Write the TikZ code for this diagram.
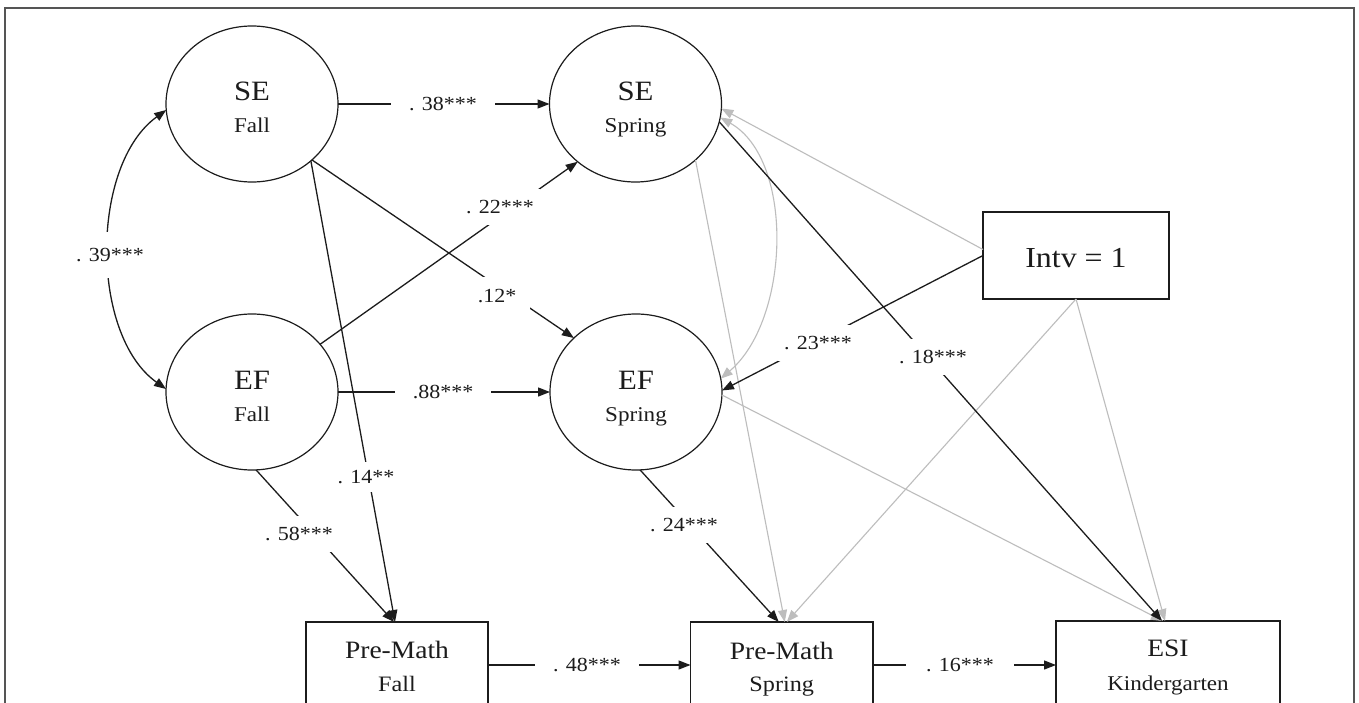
\documentclass[tikz,border=0pt]{standalone}
\usepackage{fontspec}
\setmainfont{Liberation Serif}[FakeStretch=1.1]
\usetikzlibrary{arrows.meta,shapes.geometric}
\definecolor{ink}{HTML}{1C1C1C}
\definecolor{lg}{HTML}{BDBDBD}
\definecolor{framecol}{HTML}{555555}
\tikzset{
 latent/.style={ellipse, draw=ink, line width=1.2pt, minimum width=172pt, minimum height=156pt, inner sep=0pt, outer sep=0pt},
 obsbox/.style={rectangle, draw=ink, line width=1.2pt, inner sep=0pt, outer sep=0pt},
 bigt/.style={inner sep=0pt, anchor=base, font=\fontsize{28}{30}\selectfont, text=ink},
 smt/.style={inner sep=0pt, anchor=base, font=\fontsize{21}{24}\selectfont, text=ink},
 boxt/.style={inner sep=0pt, anchor=base, font=\fontsize{25}{28}\selectfont, text=ink},
 boxs/.style={inner sep=0pt, anchor=base, font=\fontsize{22}{24}\selectfont, text=ink},
 coef/.style={fill=white, font=\fontsize{20}{22}\selectfont, text=ink, inner xsep=8pt, inner ysep=6pt},
 blk/.style={draw=ink, line width=1.3pt, -{Triangle[length=12pt,width=9pt]}},
 blkboth/.style={draw=ink, line width=1.3pt, {Triangle[length=12pt,width=9pt]}-{Triangle[length=12pt,width=9pt]}},
 gry/.style={draw=lg, line width=1.1pt, -{Triangle[length=12pt,width=9pt]}},
 gryboth/.style={draw=lg, line width=1.1pt, {Triangle[length=12pt,width=9pt]}-{Triangle[length=12pt,width=9pt]}},
}
\begin{document}
\begin{tikzpicture}[x=1pt,y=-1pt]
\useasboundingbox (0,0) rectangle (1359,703);
\clip (0,0) rectangle (1359,703);
\fill[white] (0,0) rectangle (1359,703);
\draw[draw=framecol, line width=1.5pt] (5,8) rectangle (1354,760);

% latent variables
\node[latent] (sef) at (252,104) {};
\node[latent] (ses) at (635.5,104) {};
\node[latent] (eff) at (252,392) {};
\node[latent] (efs) at (636,392) {};
\node[bigt] (sefa) at (252,101) {SE};
\node[smt]  (sefb) at (252,133) {Fall};
\node[bigt] (sesa) at (635.5,101) {SE};
\node[smt]  (sesb) at (635.5,133) {Spring};
\node[bigt] (effa) at (252,389) {EF};
\node[smt]  (effb) at (252,421) {Fall};
\node[bigt] (efsa) at (636,389) {EF};
\node[smt]  (efsb) at (636,421) {Spring};

% observed variables
\node[obsbox, minimum width=186pt, minimum height=87pt] (intv) at (1076,255.5) {};
\node[inner sep=0pt, anchor=base, font=\fontsize{29}{32}\selectfont, text=ink] (intvt) at (1076,267) {Intv = 1};
\node[obsbox, minimum width=182pt, minimum height=86pt] (pmf) at (397,665) {};
\node[obsbox, minimum width=182.5pt, minimum height=86pt] (pms) at (781.75,665) {};
\node[obsbox, minimum width=224pt, minimum height=88pt] (esi) at (1168,665) {};
\node[boxt] (pmfa) at (397,658) {Pre-Math};
\node[boxs] (pmfb) at (397,691) {Fall};
\node[boxt] (pmsa) at (781.75,659) {Pre-Math};
\node[boxs] (pmsb) at (781.75,691) {Spring};
\node[boxt] (esia) at (1168,656) {ESI};
\node[smt]  (esib) at (1168,690) {Kindergarten};

% grey (non-significant) paths
\draw[gry] ([yshift=6pt]intv.west) -- (ses.-3);
\draw[gry] (intv.south) -- ([xshift=5pt]pms.north);
\draw[gry] (intv.south) -- ([xshift=-3pt]esi.north);
\draw[gry] (ses.-43) -- ([xshift=3pt]pms.north);
\draw[gry] (efs.-2) -- ([xshift=-5pt]esi.north);
\draw[gryboth] (ses.-9) .. controls (795,160) and (790,320) .. (efs.9);

% black (significant) paths
\draw[blkboth] (sef.184) .. controls (90,165) and (90,335) .. (eff.178);
\draw[blk] (sef.east) -- (ses.west);
\draw[blk] (eff.east) -- (efs.west);
\draw[blk] (eff.35) -- (ses.225);
\draw[blk] (sef.-43) -- (efs.139);
\draw[blk] (sef.-44) -- ([xshift=-2pt]pmf.north);
\draw[blk] (eff.-87) -- ([xshift=-3pt]pmf.north);
\draw[blk] (efs.-87) -- ([xshift=-3pt]pms.north);
\draw[blk] (pmf.east) -- (pms.west);
\draw[blk] (pms.east) -- (esi.west);
\draw[blk] (intv.west) -- (efs.1);
\draw[blk] (ses.-12) -- ([xshift=-6pt]esi.north);

% coefficients
\node[coef, inner xsep=18pt] (c38) at (443,104) {. 38***};
\node[coef, inner xsep=18pt] (c88) at (443,392) {.88***};
\node[coef, inner xsep=18pt] (c48) at (587,665) {. 48***};
\node[coef, inner xsep=20pt] (c16) at (960,665) {. 16***};
\node[coef, inner xsep=6pt, inner ysep=11pt] (c22) at (500,207) {. 22***};
\node[coef, inner xsep=2pt, inner ysep=16pt] (c39) at (110,255) {. 39***};
\node[coef, inner xsep=14pt, inner ysep=12pt] (c12) at (497,296) {.12*};
\node[coef, inner xsep=4pt, inner ysep=8pt] (c14) at (366,477) {. 14**};
\node[coef, inner xsep=1pt, inner ysep=11pt] (c58) at (299,534) {. 58***};
\node[coef, inner xsep=2pt, inner ysep=11pt] (c24) at (684,525) {. 24***};
\node[coef, inner xsep=6pt, inner ysep=11pt] (c23) at (818,343) {. 23***};
\node[coef, inner xsep=0pt, inner ysep=11pt] (c18) at (933,357) {. 18***};
\end{tikzpicture}
\end{document}
